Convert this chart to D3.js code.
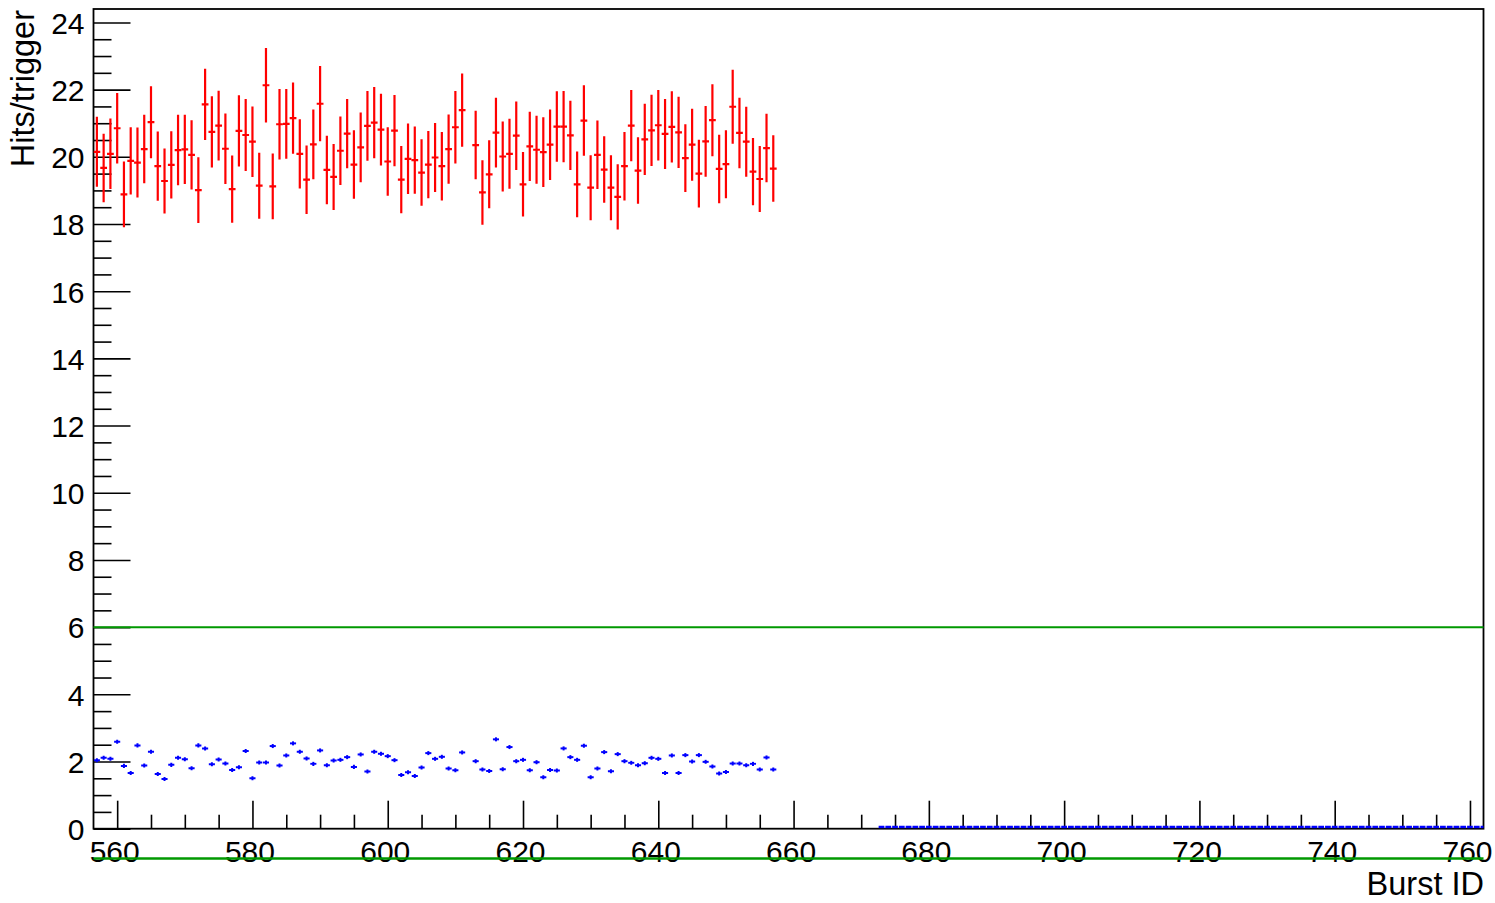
<!DOCTYPE html>
<html><head><meta charset="utf-8">
<script src="https://cdn.jsdelivr.net/npm/d3@7"></script>
<style>body{margin:0;background:#fff} text{font-family:"Liberation Sans",Arial,Helvetica,sans-serif}</style>
</head><body><svg id="c" width="1495" height="903"></svg>
<script>
// ---- data ----
const missingBurst = 612;
const bursts = d3.range(557, 658).filter(b => b !== missingBurst);
const redValues = [
  20.15,19.67,20.09,20.85,18.88,19.88,19.83,20.23,21.03,19.72,19.28,19.76,20.20,20.22,20.06,19.01,21.56,20.74,20.93,20.24,19.04,20.77,20.65,20.45,19.14,
  22.13,19.12,20.97,20.98,21.15,20.09,19.32,20.37,21.58,19.61,19.40,20.18,20.69,19.77,20.28,20.92,21.02,20.81,19.86,20.78,19.32,19.94,19.90,19.53,19.77,19.98,19.72,20.23,20.88,21.39,
  20.35,18.94,19.48,20.72,20.01,20.09,20.63,19.18,20.31,20.21,20.14,20.36,20.90,20.90,20.64,19.18,21.08,19.08,20.06,19.62,
  19.08,18.81,19.72,20.93,19.59,20.52,20.79,20.94,20.68,20.89,20.73,19.96,20.36,19.50,20.46,21.09,19.64,19.78,21.49,20.71,20.45,19.56,19.34,20.26,19.65
];
const redErrors = [
  1.04,1.02,1.05,1.05,0.98,1.00,1.04,1.02,1.07,1.03,0.97,1.00,1.05,1.03,1.03,0.98,1.06,1.06,1.04,1.05,1.00,1.06,1.07,1.05,0.98,
  1.11,0.98,1.05,1.04,1.06,1.03,1.02,1.04,1.12,1.02,0.98,1.02,1.03,1.02,1.04,1.04,1.06,1.07,1.02,1.06,1.00,1.05,1.00,0.99,1.00,1.03,1.02,1.03,1.08,1.09,
  1.02,0.96,1.01,1.04,1.04,1.04,1.02,0.96,1.03,1.01,1.04,1.05,1.05,1.06,1.03,0.98,1.05,0.97,1.02,0.99,
  0.97,0.97,1.02,1.06,0.99,1.06,1.06,1.05,1.04,1.06,1.06,1.01,1.07,1.01,1.05,1.07,1.02,1.01,1.10,1.05,1.04,1.00,0.98,1.02,0.99
];
const blueValues = [
  2.04,2.11,2.08,2.59,1.87,1.66,2.48,1.88,2.29,1.63,1.48,1.90,2.11,2.07,1.80,2.48,2.39,1.92,2.06,1.94,1.75,1.83,2.31,1.50,1.97,
  1.97,2.46,1.88,2.18,2.54,2.29,2.09,1.93,2.33,1.89,2.03,2.05,2.13,1.84,2.21,1.70,2.29,2.23,2.16,2.04,1.60,1.68,1.57,1.82,2.25,2.08,2.14,1.79,1.74,2.27,
  2.01,1.76,1.72,2.66,1.77,2.43,2.01,2.05,1.74,1.98,1.53,1.75,1.73,2.39,2.13,2.05,2.47,1.53,1.79,2.28,
  1.71,2.22,2.01,1.96,1.89,1.95,2.11,2.08,1.66,2.18,1.66,2.19,2.00,2.19,1.99,1.85,1.64,1.69,1.94,1.94,1.89,1.93,1.76,2.12,1.76
];
const blueError = 0.06;
const lateBursts = d3.range(673, 763);
const lateBlueValue = 0.05;
const binHalfWidth = 0.5;
const thresholdLine = 6;
const lowerLine = -0.89;
const xTicks = [560,580,600,620,640,660,680,700,720,740,760];
const yTicks = [0,2,4,6,8,10,12,14,16,18,20,22,24];
const xDomain = [556.5, 762];
const yDomain = [0, 24.4];

// ---- layout ----
const svg = d3.select("#c");
const L = 93.5, R = 1483.5, T = 9, B = 828.7;
const x = d3.scaleLinear().domain(xDomain).range([L, R]);
const y = d3.scaleLinear().domain(yDomain).range([B, T]);

const xMinor = d3.range(560, 762, 5).filter(v => !xTicks.includes(v));
const yMinor = d3.range(0, 24.4, 0.5).filter(v => !yTicks.includes(v));

svg.append("defs").append("clipPath").attr("id","clip")
  .append("rect").attr("x",L).attr("y",T).attr("width",R-L).attr("height",B-T);

const font = 30, titleFont = 32.5;

// x axis
const gx = svg.append("g").attr("transform",`translate(0,${B})`)
  .call(d3.axisBottom(x).tickValues(xTicks).tickSize(-28).tickPadding(12).tickFormat(d3.format("d")));
gx.select(".domain").remove();
gx.selectAll("line").attr("stroke","#000").attr("stroke-width",1.6);
gx.selectAll("text").attr("font-size",font).attr("fill","#000").attr("dx",-3);
const gxm = svg.append("g").attr("transform",`translate(0,${B})`)
  .call(d3.axisBottom(x).tickValues(xMinor).tickSize(-14).tickFormat(""));
gxm.select(".domain").remove();
gxm.selectAll("line").attr("stroke","#000").attr("stroke-width",1.6);

// y axis
const gy = svg.append("g").attr("transform",`translate(${L},0)`)
  .call(d3.axisLeft(y).tickValues(yTicks).tickSize(-37).tickPadding(9).tickFormat(d3.format("d")));
gy.select(".domain").remove();
gy.selectAll("line").attr("stroke","#000").attr("stroke-width",1.6);
gy.selectAll("text").attr("font-size",font).attr("fill","#000").attr("dy","0.36em");
const gym = svg.append("g").attr("transform",`translate(${L},0)`)
  .call(d3.axisLeft(y).tickValues(yMinor).tickSize(-18).tickFormat(""));
gym.select(".domain").remove();
gym.selectAll("line").attr("stroke","#000").attr("stroke-width",1.6);

// frame
svg.append("rect").attr("x",L).attr("y",T).attr("width",R-L).attr("height",B-T)
  .attr("fill","none").attr("stroke","#000").attr("stroke-width",1.8);

// green lines
svg.append("line").attr("x1",L).attr("x2",R).attr("y1",y(thresholdLine)).attr("y2",y(thresholdLine))
  .attr("stroke","#009900").attr("stroke-width",2);
svg.append("line").attr("x1",L).attr("x2",R).attr("y1",y(lowerLine)).attr("y2",y(lowerLine))
  .attr("stroke","#009900").attr("stroke-width",2.5);

const plot = svg.append("g").attr("clip-path","url(#clip)");

// red points
const red = bursts.map((b,i)=>({b, v:redValues[i], e:redErrors[i]}));
const rg = plot.append("g").attr("stroke","#ff0000").attr("stroke-width",2.2);
rg.selectAll(".v").data(red).join("line")
  .attr("x1",d=>x(d.b)).attr("x2",d=>x(d.b)).attr("y1",d=>y(d.v-d.e)).attr("y2",d=>y(d.v+d.e));
rg.selectAll(".h").data(red).join("line")
  .attr("x1",d=>x(d.b-binHalfWidth)).attr("x2",d=>x(d.b+binHalfWidth)).attr("y1",d=>y(d.v)).attr("y2",d=>y(d.v));

// blue points
const blue = bursts.map((b,i)=>({b, v:blueValues[i]}));
const bg = plot.append("g").attr("stroke","#0000ff").attr("stroke-width",2);
bg.selectAll(".v").data(blue).join("line")
  .attr("x1",d=>x(d.b)).attr("x2",d=>x(d.b)).attr("y1",d=>y(d.v-blueError)).attr("y2",d=>y(d.v+blueError));
bg.selectAll(".h").data(blue).join("line")
  .attr("x1",d=>x(d.b-binHalfWidth*0.9)).attr("x2",d=>x(d.b+binHalfWidth*0.9)).attr("y1",d=>y(d.v)).attr("y2",d=>y(d.v));
plot.append("g").attr("stroke","#0000ff").attr("stroke-width",2.5)
  .selectAll("line").data(lateBursts).join("line")
  .attr("x1",d=>x(d-binHalfWidth*0.85)).attr("x2",d=>x(d+binHalfWidth*0.85))
  .attr("y1",y(lateBlueValue)).attr("y2",y(lateBlueValue));

// titles
svg.append("text").attr("transform","translate(34,10) rotate(-90)").attr("text-anchor","end")
  .attr("font-size",titleFont).attr("fill","#000").text("Hits/trigger");
svg.append("text").attr("x",1484).attr("y",895).attr("text-anchor","end")
  .attr("font-size",titleFont).attr("fill","#000").text("Burst ID");
</script></body></html>
